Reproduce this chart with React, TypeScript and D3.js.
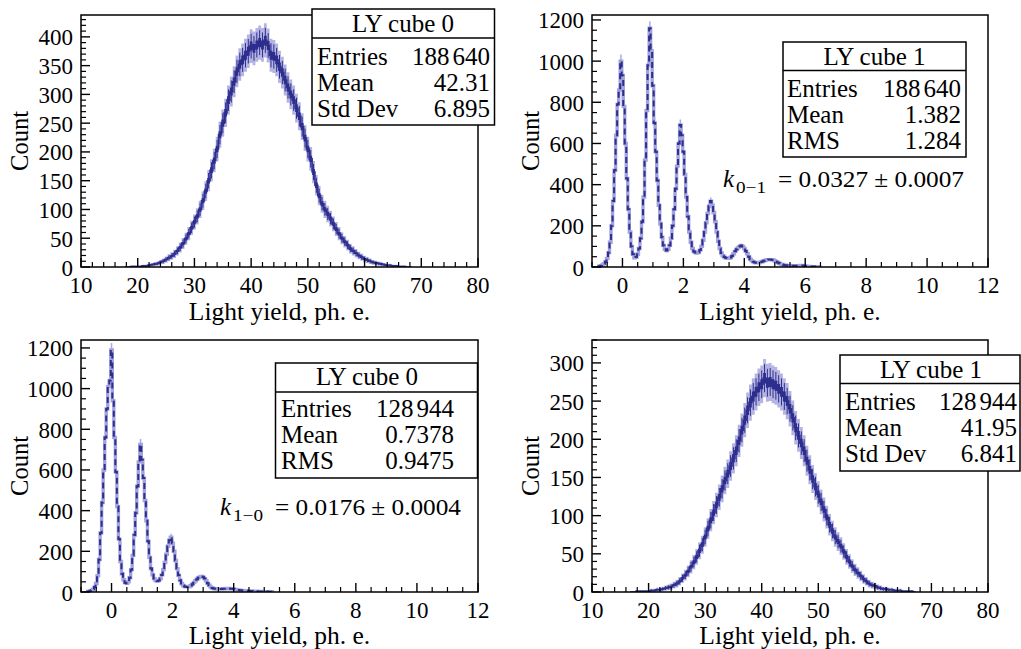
import React from 'react';
import * as d3 from 'd3';

const FONT = "'Liberation Serif', 'Times New Roman', serif";
const DARK = '#2e2e8e';
const LIGHT = '#a3a3dc';

// ---- Data ----
// Top-left: LY cube 0, Gaussian-like light yield (bin centres from 18, step 0.5)
const binStartTL = 18;
const binWidthTL = 0.5;
const countsTL = [
  0, 0, 1, 1, 1, 1, 2, 2, 3, 4,
  5, 6, 8, 10, 13, 16, 19, 23, 28, 34,
  41, 49, 58, 68, 78, 88, 100, 115, 132, 150,
  168, 185, 205, 230, 250, 268, 290, 305, 322, 340,
  352, 360, 368, 375, 384, 380, 386, 390, 386, 394,
  385, 368, 366, 360, 348, 338, 325, 312, 300, 290,
  276, 262, 244, 224, 205, 188, 165, 142, 124, 110,
  100, 92, 84, 75, 66, 58, 50, 44, 38, 32,
  28, 24, 20, 17, 14, 12, 10, 8, 7, 6,
  5, 4, 3, 3, 2, 2, 1, 1, 1, 0, 0,
];

// Top-right: LY cube 1, photo-electron peaks (bin centres from -0.8, step 0.05)
const binStartTR = -0.8;
const binWidthTR = 0.05;
const countsTR = [
  3, 4, 6, 10, 16, 26, 42, 70, 120, 200,
  320, 470, 640, 790, 860, 1000, 930, 780, 600, 430,
  280, 170, 100, 62, 45, 48, 62, 90, 140, 220,
  340, 520, 760, 980, 1160, 1050, 880, 700, 560, 420,
  300, 210, 145, 105, 86, 80, 86, 105, 140, 200,
  280, 380, 490, 600, 690, 640, 560, 450, 340, 245,
  170, 120, 90, 75, 70, 68, 72, 82, 100, 130,
  170, 215, 260, 295, 320, 300, 265, 220, 170, 125,
  90, 68, 55, 48, 44, 42, 42, 46, 54, 64,
  76, 86, 94, 100, 104, 100, 90, 78, 64, 50,
  38, 30, 25, 22, 21, 21, 22, 24, 27, 30,
  33, 35, 36, 36, 35, 34, 30, 26, 22, 18,
  14, 12, 10, 9, 8, 7, 7, 6, 6, 6,
  6, 6, 6, 7, 7, 6, 5, 4, 3, 3,
  2, 2, 2, 1, 1, 1, 1,
];

// Bottom-left: LY cube 0, photo-electron peaks (bin centres from -0.8, step 0.05)
const binStartBL = -0.8;
const binWidthBL = 0.05;
const countsBL = [
  2, 3, 5, 8, 14, 24, 42, 80, 160, 290,
  440, 600, 760, 900, 1010, 1040, 1190, 940, 760, 590,
  420, 260, 150, 90, 60, 46, 43, 50, 70, 110,
  180, 280, 390, 520, 640, 725, 650, 560, 450, 350,
  250, 170, 115, 85, 66, 56, 54, 56, 66, 84,
  110, 145, 185, 225, 255, 270, 240, 200, 155, 115,
  82, 58, 42, 32, 27, 25, 25, 27, 31, 38,
  46, 55, 63, 70, 74, 76, 74, 66, 55, 43,
  33, 25, 20, 17, 16, 15, 15, 15, 15, 16,
  16, 17, 17, 17, 16, 16, 15, 13, 11, 10,
  9, 8, 7, 7, 6, 6, 5, 5, 5, 4,
  4, 4, 3, 3, 3, 2, 2, 2, 2, 1,
  1, 1, 1,
];

// Bottom-right: LY cube 1, Gaussian-like light yield (bin centres from 17, step 0.5)
const binStartBR = 17;
const binWidthBR = 0.5;
const countsBR = [
  0, 0, 1, 1, 1, 1, 1, 2, 2, 3,
  3, 4, 5, 6, 7, 9, 11, 14, 18, 22,
  27, 33, 39, 46, 54, 62, 72, 83, 94, 104,
  114, 124, 135, 146, 155, 165, 175, 185, 198, 212,
  225, 238, 248, 256, 262, 268, 272, 280, 274, 275,
  272, 270, 266, 262, 256, 250, 240, 228, 215, 205,
  195, 185, 172, 160, 148, 138, 128, 118, 108, 98,
  88, 80, 72, 66, 60, 53, 46, 40, 34, 29,
  25, 21, 17, 14, 11, 9, 8, 6, 5, 4,
  4, 3, 3, 2, 2, 2, 1, 1, 1, 1, 0,
];

// Axis ticks
const xTicksWide = [10, 20, 30, 40, 50, 60, 70, 80];
const xTicksPeaks = [0, 2, 4, 6, 8, 10, 12];
const yTicksTL = [0, 50, 100, 150, 200, 250, 300, 350, 400];
const yTicksTR = [0, 200, 400, 600, 800, 1000, 1200];
const yTicksBL = [0, 200, 400, 600, 800, 1000, 1200];
const yTicksBR = [0, 50, 100, 150, 200, 250, 300];

// Stat boxes (entries split as digit groups)
const statsTL = { title: 'LY cube 0', labels: ['Entries', 'Mean', 'Std Dev'], values: [['188', '640'], ['42.31'], ['6.895']] };
const statsTR = { title: 'LY cube 1', labels: ['Entries', 'Mean', 'RMS'], values: [['188', '640'], ['1.382'], ['1.284']] };
const statsBL = { title: 'LY cube 0', labels: ['Entries', 'Mean', 'RMS'], values: [['128', '944'], ['0.7378'], ['0.9475']] };
const statsBR = { title: 'LY cube 1', labels: ['Entries', 'Mean', 'Std Dev'], values: [['128', '944'], ['41.95'], ['6.841']] };

const kTR = { sub: '0\u22121', rest: '= 0.0327 \u00b1 0.0007' };
const kBL = { sub: '1\u22120', rest: '= 0.0176 \u00b1 0.0004' };

const X_TITLE = 'Light yield, ph. e.';
const Y_TITLE = 'Count';

const TS: React.CSSProperties = { fontFamily: FONT };

type Box = { x: number; y: number; w: number; h: number; sep: number; titleX: number; titleY: number; rowY: number[]; labelX: number; valueX: number };

type PanelProps = {
  frame: [number, number, number, number];
  xDomain: [number, number];
  yMax: number;
  xTicks: number[];
  xMinor: number;
  yTicks: number[];
  yMinor: number;
  counts: number[];
  binStart: number;
  binWidth: number;
  kind: 'gauss' | 'peaks';
  stats: { title: string; labels: string[]; values: string[][] };
  box: Box;
  k?: { sub: string; rest: string };
  kPos?: [number, number];
  id: string;
  xTitleDy: number;
};

function Panel(p: PanelProps) {
  const [x0, y0, x1, y1] = p.frame;
  const xs = d3.scaleLinear().domain(p.xDomain).range([x0, x1]);
  const ys = d3.scaleLinear().domain([0, p.yMax]).range([y1, y0]);
  const pts: [number, number][] = p.counts.flatMap((v, i) => {
    const c = p.binStart + i * p.binWidth;
    return [[c - p.binWidth / 2, v], [c + p.binWidth / 2, v]] as [number, number][];
  });
  const line = d3.line<[number, number]>().x(d => xs(d[0])).y(d => ys(d[1]));
  const band = (k: number) =>
    d3.area<[number, number]>()
      .x(d => xs(d[0]))
      .y0(d => ys(Math.max(0, d[1] - k * Math.sqrt(d[1]))))
      .y1(d => ys(d[1] + k * Math.sqrt(d[1])));

  const eps = 1e-9;
  const xMinorTicks = d3.range(p.xDomain[0], p.xDomain[1] + eps, p.xMinor)
    .filter(t => !p.xTicks.some(m => Math.abs(m - t) < 1e-6));
  const yMinorTicks = d3.range(0, p.yMax + eps, p.yMinor)
    .filter(t => !p.yTicks.some(m => Math.abs(m - t) < 1e-6));
  const MAJ = 9, MIN = 5;
  const clipId = 'clip-' + p.id;
  const b = p.box;

  return (
    <g>
      <defs>
        <clipPath id={clipId}>
          <rect x={x0} y={y0} width={x1 - x0} height={y1 - y0} />
        </clipPath>
      </defs>
      <g clipPath={`url(#${clipId})`}>
        {p.kind === 'gauss' ? (
          <g>
            <path d={band(1.5)(pts) || ''} fill={LIGHT} opacity={0.8} />
            <path d={band(0.4)(pts) || ''} fill={DARK} />
            {p.counts.map((v, i) => {
              const c = p.binStart + i * p.binWidth;
              const e = Math.sqrt(v);
              return <line key={i} x1={xs(c)} x2={xs(c)} y1={ys(Math.max(0, v - 1.1 * e))} y2={ys(v + 1.1 * e)} stroke={DARK} strokeWidth={1} />;
            })}
            <path d={line(pts) || ''} fill="none" stroke={DARK} strokeWidth={1.6} />
          </g>
        ) : (
          <g>
            <path d={band(1.0)(pts) || ''} fill={LIGHT} opacity={0.9} />
            <path d={line(pts) || ''} fill="none" stroke={LIGHT} strokeWidth={3.4} />
            <path d={line(pts) || ''} fill="none" stroke={DARK} strokeWidth={2} strokeDasharray="6 4" />
          </g>
        )}
      </g>
      {/* frame */}
      <rect x={x0} y={y0} width={x1 - x0} height={y1 - y0} fill="none" stroke="#000" strokeWidth={1.5} />
      {/* x ticks */}
      {p.xTicks.map(t => (
        <line key={'xM' + t} x1={xs(t)} x2={xs(t)} y1={y1} y2={y1 - MAJ} stroke="#000" strokeWidth={1.4} />
      ))}
      {xMinorTicks.map(t => (
        <line key={'xm' + t} x1={xs(t)} x2={xs(t)} y1={y1} y2={y1 - MIN} stroke="#000" strokeWidth={1.2} />
      ))}
      {p.yTicks.map(t => (
        <line key={'yM' + t} x1={x0} x2={x0 + MAJ} y1={ys(t)} y2={ys(t)} stroke="#000" strokeWidth={1.4} />
      ))}
      {yMinorTicks.map(t => (
        <line key={'ym' + t} x1={x0} x2={x0 + MIN} y1={ys(t)} y2={ys(t)} stroke="#000" strokeWidth={1.2} />
      ))}
      {/* tick labels */}
      {p.xTicks.map(t => (
        <text key={'xl' + t} x={xs(t)} y={y1 + 26} textAnchor="middle" fontSize={23} style={TS}>{t}</text>
      ))}
      {p.yTicks.map(t => (
        <text key={'yl' + t} x={x0 - 8} y={ys(t) + 8.5} textAnchor="end" fontSize={23} style={TS}>{t}</text>
      ))}
      {/* axis titles */}
      <text x={(x0 + x1) / 2} y={y1 + p.xTitleDy} textAnchor="middle" fontSize={25.5} style={TS}>{X_TITLE}</text>
      <text transform={`translate(${x0 - 53},${(y0 + y1) / 2}) rotate(-90)`} textAnchor="middle" fontSize={24.5} style={TS}>{Y_TITLE}</text>
      {/* k annotation */}
      {p.k && p.kPos && (
        <g>
          <text x={p.kPos[0]} y={p.kPos[1]} fontSize={25} fontStyle="italic" style={TS}>k</text>
          <text x={p.kPos[0] + 13} y={p.kPos[1] + 6} fontSize={17} textLength={30} lengthAdjust="spacingAndGlyphs" style={TS}>{p.k.sub}</text>
          <text x={p.kPos[0] + 55} y={p.kPos[1]} fontSize={24} textLength={186} lengthAdjust="spacingAndGlyphs" style={TS}>{p.k.rest}</text>
        </g>
      )}
      {/* stat box */}
      <rect x={b.x} y={b.y} width={b.w} height={b.h} fill="#fff" stroke="#000" strokeWidth={1.5} />
      <line x1={b.x} x2={b.x + b.w} y1={b.sep} y2={b.sep} stroke="#000" strokeWidth={1.5} />
      <text x={b.titleX} y={b.titleY} textAnchor="middle" fontSize={25} style={TS}>{p.stats.title}</text>
      {p.stats.labels.map((l, i) => (
        <g key={l}>
          <text x={b.labelX} y={b.rowY[i]} fontSize={25} style={TS}>{l}</text>
          <text x={b.valueX} y={b.rowY[i]} textAnchor="end" fontSize={25} style={TS}>
            {p.stats.values[i].map((s, j) => (
              <tspan key={j} dx={j > 0 ? 3 : 0}>{s}</tspan>
            ))}
          </text>
        </g>
      ))}
    </g>
  );
}

export default function App() {
  return (
    <svg width={1021} height={649} style={{ position: 'absolute', left: 0, top: 0, display: 'block' }}>
      <rect x={0} y={0} width={1021} height={649} fill="#fff" />
      <Panel
        id="tl" frame={[81, 15, 478, 267]} xDomain={[10, 80]} yMax={438}
        xTicks={xTicksWide} xMinor={2} yTicks={yTicksTL} yMinor={10}
        counts={countsTL} binStart={binStartTL} binWidth={binWidthTL} kind="gauss"
        stats={statsTL} xTitleDy={53}
        box={{ x: 312, y: 9, w: 182.5, h: 116, sep: 38, titleX: 403, titleY: 32, rowY: [65, 91, 117], labelX: 317, valueX: 490 }}
      />
      <Panel
        id="tr" frame={[592, 15, 988, 267]} xDomain={[-1, 12]} yMax={1224}
        xTicks={xTicksPeaks} xMinor={0.5} yTicks={yTicksTR} yMinor={50}
        counts={countsTR} binStart={binStartTR} binWidth={binWidthTR} kind="peaks"
        stats={statsTR} xTitleDy={53}
        box={{ x: 783, y: 42, w: 183, h: 115, sep: 70.5, titleX: 874.5, titleY: 64.5, rowY: [96.5, 122.5, 148.5], labelX: 787, valueX: 961 }}
        k={kTR} kPos={[723, 187]}
      />
      <Panel
        id="bl" frame={[81, 340, 478, 592]} xDomain={[-1, 12]} yMax={1239}
        xTicks={xTicksPeaks} xMinor={0.5} yTicks={yTicksBL} yMinor={50}
        counts={countsBL} binStart={binStartBL} binWidth={binWidthBL} kind="peaks"
        stats={statsBL} xTitleDy={52}
        box={{ x: 275.5, y: 363, w: 202, h: 115, sep: 392, titleX: 367, titleY: 385, rowY: [417, 443, 468.5], labelX: 281, valueX: 454 }}
        k={kBL} kPos={[220, 515]}
      />
      <Panel
        id="br" frame={[592, 340, 988, 592]} xDomain={[10, 80]} yMax={330}
        xTicks={xTicksWide} xMinor={2} yTicks={yTicksBR} yMinor={10}
        counts={countsBR} binStart={binStartBR} binWidth={binWidthBR} kind="gauss"
        stats={statsBR} xTitleDy={52}
        box={{ x: 840, y: 355, w: 180, h: 116, sep: 383.5, titleX: 931, titleY: 378, rowY: [410, 436, 462], labelX: 845, valueX: 1017 }}
      />
    </svg>
  );
}
